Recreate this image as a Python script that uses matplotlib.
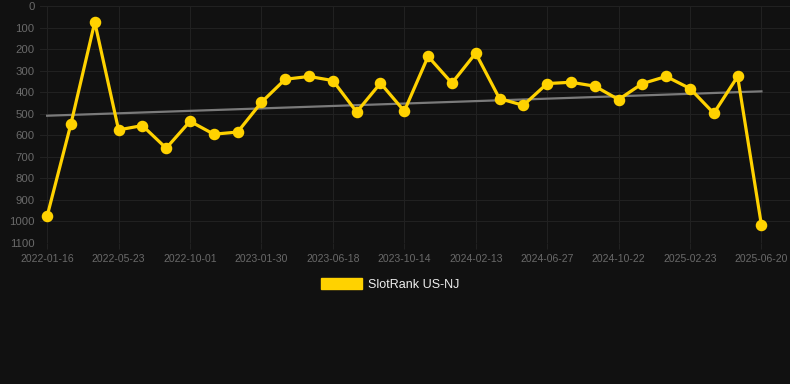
import numpy as np
import matplotlib
matplotlib.use("Agg")
import matplotlib.pyplot as plt
from matplotlib.patches import Patch

# Rank values (lower is better), one per sample
ranks = [975, 547, 75, 575, 555, 660, 535, 595, 585, 447, 340, 327, 346, 492, 358,
         488, 234, 358, 219, 430, 461, 360, 354, 372, 434, 360, 327, 383, 498, 327, 1017]
tick_labels = ["2022-01-16", "2022-05-23", "2022-10-01", "2023-01-30", "2023-06-18",
               "2023-10-14", "2024-02-13", "2024-06-27", "2024-10-22", "2025-02-23",
               "2025-06-20"]
series_name = "SlotRank US-NJ"

plt.rcParams["font.family"] = ["Liberation Sans", "DejaVu Sans"]

bg = "#111111"
grid_c = "#212121"
gold = "#FFD200"

x = np.arange(len(ranks))
slope, icpt = np.polyfit(x, ranks, 1)

fig = plt.figure(figsize=(7.9, 3.84), dpi=100, facecolor=bg)
ax = fig.add_axes([40 / 790, 1 - 243 / 384, 750 / 790, 237 / 384])
ax.set_facecolor(bg)

# trend line
ax.plot(x, slope * x + icpt, color="#7a7a7a", lw=1.6, zorder=2)
# rank series
ax.plot(x, ranks, color=gold, lw=2.3, marker="o", ms=7.3, zorder=3)

ax.set_xlim(-0.3, 31.2)
ax.set_ylim(1100, 0)
ax.set_yticks(np.arange(0, 1101, 100))
ax.set_xticks(x[::3])
ax.set_xticklabels(tick_labels)

ax.grid(True, color=grid_c, lw=0.8)
for s in ax.spines.values():
    s.set_visible(False)
ax.tick_params(axis="y", length=0, pad=4, labelsize=8.2, labelcolor="#6a6a6a")
ax.tick_params(axis="x", length=4, color=grid_c, pad=4, labelsize=7.5, labelcolor="#6a6a6a")

fig.legend(handles=[Patch(facecolor=gold, edgecolor=gold)], labels=[series_name],
           loc="center", bbox_to_anchor=(0.494, 0.26), frameon=False,
           handlelength=3.3, handleheight=1.0, handletextpad=0.5,
           fontsize=9, labelcolor="#eeeeee")

fig.savefig("out.png", dpi=100, facecolor=bg)
